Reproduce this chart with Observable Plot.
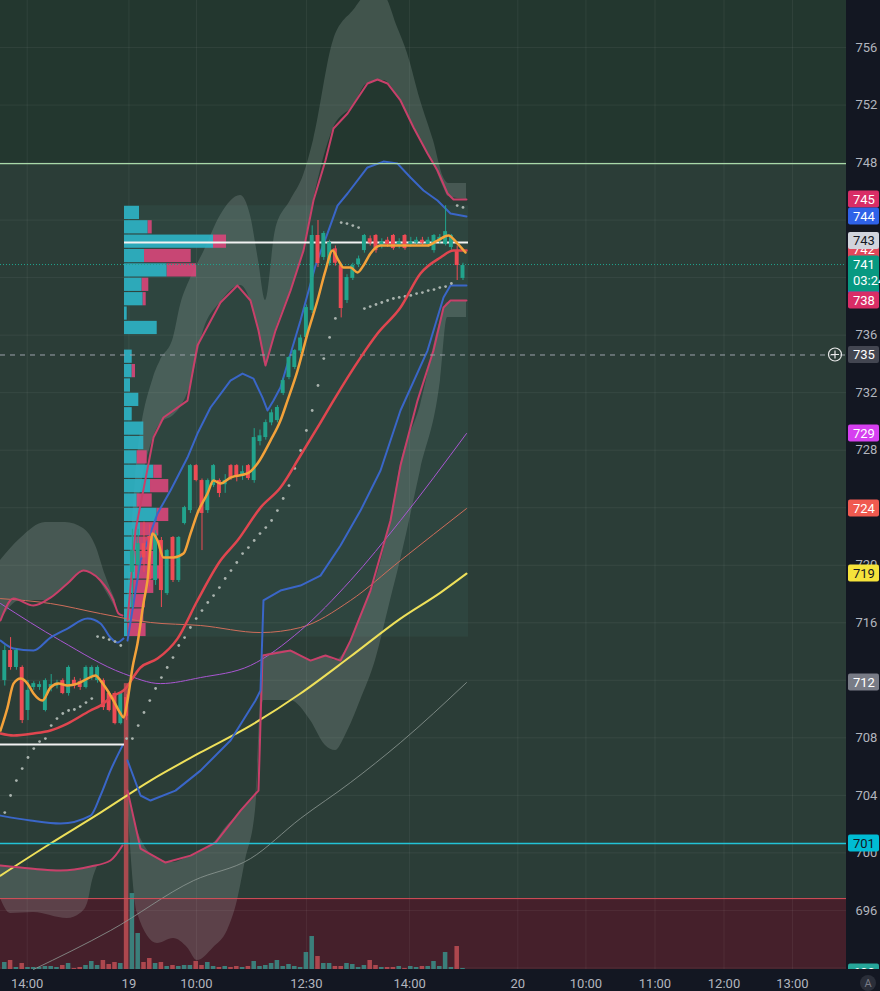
<!DOCTYPE html>
<html><head><meta charset="utf-8">
<script src="https://cdn.jsdelivr.net/npm/d3@7"></script>
<script src="https://cdn.jsdelivr.net/npm/@observablehq/plot@0.6"></script>
<style>
html,body{margin:0;padding:0;background:#131722;}
#chart svg{display:block;}
</style></head><body><div id="chart"></div>
<script>
// ---------- axes ----------
const xDomain = [-0.74, 145.12];           // bar index
const yDomain = [691.89, 759.27];          // price
const xTicks = [3.86, 21.4, 33.05, 52.0, 69.8, 88.45, 100.2, 112.1, 124.0, 135.8];
const xLabels = ["14:00", "19", "10:00", "12:30", "14:00", "20", "10:00", "11:00", "12:00", "13:00"];
const yTicks = [692, 696, 700, 704, 708, 712, 716, 720, 724, 728, 732, 736, 740, 744, 748, 752, 756];
const yTickLabels = [696, 700, 704, 708, 716, 720, 728, 732, 736, 748, 752, 756]; // the rest sit under price badges

// ---------- candles [bar, open, high, low, close] ----------
const candles = [
[0,711.98,714.4,711.6,714.07],[1,714.07,714.97,712.7,712.89],[2,712.89,714.2,712.7,714.07],[3,712.89,713.0,708.99,709.2],
[4,709.9,711.98,709.2,711.3],[5,711.5,711.9,711.3,711.77],[6,711.5,711.9,711.3,711.7],[7,709.9,712.1,709.8,711.98],
[8,711.5,712.4,711.2,711.7],[9,711.6,712.0,711.4,711.8],[10,711.98,712.1,711.0,711.08],[11,711.08,713.0,710.9,712.89],
[12,712.0,712.2,711.4,711.6],[13,711.9,712.1,711.3,711.5],[14,711.5,713.0,711.4,712.89],[15,712.19,713.0,712.0,712.89],
[16,711.98,713.0,711.8,712.89],[17,711.98,712.1,709.9,710.1],[18,711.08,711.2,709.8,709.9],[19,711.08,711.2,708.9,708.99],
[20,708.99,711.2,708.9,711.08],[21,710.8,711.0,709.2,709.5],[22,719.5,722.5,717.0,721.0],[23,720.0,722.5,719.0,721.5],
[24,721.5,723.0,719.5,720.5],[25,722.0,722.8,718.5,719.0],[26,718.94,722.4,718.6,722.2],[27,721.72,721.93,717.06,718.24],
[28,718.03,721.1,717.9,721.02],[29,721.93,722.0,718.8,718.94],[30,718.94,722.0,718.8,721.93],[31,722.9,724.1,722.8,724.01],
[32,723.8,727.0,723.6,726.93],[33,726.93,727.0,725.8,725.89],[34,725.89,726.0,721.02,723.6],[35,723.8,726.0,723.6,725.89],
[36,725.54,727.0,725.4,726.93],[37,725.89,726.0,724.7,724.99],[38,725.6,726.3,725.0,725.9],[39,726.93,727.0,725.9,726.03],
[40,726.93,727.0,725.8,726.1],[41,726.2,726.9,725.9,726.5],[42,726.93,727.0,725.9,726.03],[43,725.89,729.5,725.7,728.88],
[44,728.6,729.4,728.3,729.0],[45,728.88,730.1,728.7,729.92],[46,729.9,730.8,729.7,730.6],[47,730.06,731.1,729.9,730.97],
[48,731.94,733.0,731.8,732.84],[49,733.05,734.5,732.9,734.44],[50,733.75,735.0,733.6,734.93],[51,734.9,736.0,734.7,735.8],
[52,735.84,738.1,735.7,737.92],[53,737.71,743.6,737.5,742.93],[54,742.93,743.97,740.7,740.98],[55,741.4,743.2,741.2,743.07],
[56,740.98,742.6,740.8,742.44],[57,742.0,742.2,740.8,741.0],[58,740.84,741.0,737.2,737.85],[59,738.41,740.2,738.2,740.01],
[60,739.94,741.0,739.8,740.84],[61,740.9,741.5,740.7,741.3],[62,741.88,743.0,741.7,742.93],[63,742.7,742.9,742.2,742.4],
[64,742.93,743.0,741.7,741.88],[65,742.2,742.7,742.0,742.5],[66,742.6,742.8,742.1,742.3],[67,742.93,743.0,741.9,742.02],
[68,742.2,742.7,742.0,742.5],[69,742.93,743.0,741.9,742.02],[70,742.3,742.8,742.1,742.5],[71,742.4,742.8,742.2,742.6],
[72,742.6,742.8,742.2,742.4],[73,742.3,742.8,742.1,742.6],[74,741.88,743.0,741.7,742.93],[75,742.5,743.0,742.3,742.8],
[76,742.3,745.0,742.2,743.2],[77,742.09,743.0,741.9,742.93],[78,741.88,742.2,739.8,740.84],[79,739.94,741.0,739.8,740.84]
];
// volume per bar (x10k shares)
const volumes = [7,9,2,6,2,2,2,3,3,2, 4,6,1,2,4,8,4,9,5,7, 6,286,76,36,7,11,6,7,3,4, 3,4,4,8,4,7,3,2,3,2,
  3,2,3,8,3,4,6,9,3,5, 3,2,17,33,13,6,6,3,3,6, 5,2,4,9,4,2,2,2,3,1, 3,2,3,3,8,3,17,2,23,1];

// ---------- session volume profile [row low price, up vol, down vol] ----------
const profileRows = [
[744,15,0],[743,23.7,4],[742,89,13],[741,20,46.7],[740,42.7,29.3],[739,17.7,6.6],[738,18.7,3],[737,2.7,0],
[736,32.7,0],[735,0,0],[734,7.7,0],[733,7.7,3.3],[732,6,0],[731,14.3,0],[730,7.7,0],[729,19.3,0],[728,19.3,0],
[727,12.7,10],[726,29.3,8.4],[725,26,18.3],[724,12.7,15],[723,32.7,11.6],[722,16,18.3],[721,12.7,16.6],
[720,11,20],[719,11,25],[718,9.3,20],[717,7.7,13.3],[716,6,13.3],[715,3.3,18.3]
];
const profileSession = {start: 20.64, end: 79.95, low: 715, high: 745, poc: 742.44};
const prevPoc = {end: 20.64, price: 707.53};

// ---------- indicator lines [bar, price] ----------
const yellowMA = [[-0.74,698.42],[7.88,700.65],[16.5,702.8],[25.12,705.03],[33.74,706.98],[42.36,708.85],[50.98,711.08],[59.6,713.65],[68.22,716.29],[75.12,718.1],[79.6,719.42]];
const grayMA = [[4.95,691.89],[18.22,694.6],[32.53,698.07],[42.36,699.6],[50.98,702.39],[59.6,704.89],[68.22,707.67],[79.6,711.84]];
const purpleMA = [[-0.74,717.34],[9.6,714.76],[20.47,712.47],[26.84,711.77],[33.74,712.19],[42.36,713.03],[50.98,715.46],[59.6,718.94],[68.22,723.11],[79.6,729.16]];
const salmonMA = [[-0.74,717.68],[7.88,717.34],[16.5,716.64],[25.12,716.02],[33.74,715.81],[44.09,715.32],[50.98,715.67],[59.6,717.55],[68.22,720.33],[79.6,723.94]];
const redMA = [[-0.74,708.3],[1.5,708.16],[4.95,708.3],[7.88,708.51],[10.81,708.99],[14.78,709.9],[16.5,710.24],[18.74,710.94],[20.47,711.29],[23.4,712.89],[26.33,713.51],[29.78,714.9],[33.22,717.55],[37.19,720.33],[40.12,721.72],[44.09,724.01],[47.53,725.4],[50.98,727.63],[54.43,729.92],[56.67,731.45],[61.33,734.44],[64.26,736.11],[68.22,737.92],[71.67,740.29],[75.12,741.4],[77.36,741.88],[79.6,741.88]];
const orangeMA = [[-0.74,708.51],[0.47,710.1],[1.5,711.77],[2.71,712.12],[3.91,711.77],[4.95,711.08],[6.5,710.59],[7.88,711.5],[9.26,711.77],[10.81,711.64],[12.53,711.77],[14.26,712.12],[15.64,712.33],[16.5,711.98],[17.71,711.29],[18.74,710.59],[19.95,709.69],[20.47,709.41],[21.16,710.59],[22.02,712.89],[22.88,714.56],[23.91,717.34],[24.6,718.94],[25.47,722.2],[26.33,721.72],[27.36,720.54],[29.09,720.54],[30.81,720.81],[32.02,722.2],[33.4,723.8],[34.95,724.99],[35.98,725.89],[37.19,725.68],[38.91,726.1],[41.84,726.38],[43.57,727.07],[45.81,728.67],[47.53,730.06],[48.74,731.45],[50.47,733.54],[52.19,736.11],[53.91,738.41],[55.29,740.49],[56.5,741.88],[57.53,741.19],[58.4,740.7],[59.6,740.7],[60.81,740.36],[61.84,740.84],[63.05,741.68],[64.78,742.23],[67.02,742.23],[69.95,742.23],[72.88,742.23],[74.6,742.58],[76.5,742.93],[78.05,742.37],[79.43,741.75]];

// session bands (day 18 / day 19)
const upperPink18 = [[-0.74,716.16],[1.5,717.68],[4.95,717.2],[7.88,717.75],[10.81,718.73],[13.57,719.63],[14.78,719.49],[16.5,718.94],[18.74,717.55],[19.6,716.64],[20.29,716.5]];
const upperBlue18 = [[-0.74,714.76],[1.5,714.21],[4.95,714.07],[7.88,714.97],[10.81,715.6],[14.26,716.29],[16.5,715.95],[18.22,714.97],[19.43,714.63],[20.47,714.9]];
const lowerBlue18 = [[-0.74,702.59],[4.43,702.25],[9.6,702.04],[14.78,702.59],[16.5,703.99],[18.22,705.72],[20.29,707.46]];
const lowerPink18 = [[-0.74,699.12],[4.43,698.91],[9.6,698.77],[14.78,699.05],[18.22,699.47],[20.29,700.51]];
const upperPink19 = [[21.16,716.16],[22.53,722.41],[24.78,727.07],[25.64,728.88],[27.36,730.27],[31.5,731.45],[33.22,735.28],[37.19,738.27],[40.12,739.45],[42.36,738.41],[43.74,736.32],[44.95,733.89],[46.67,736.32],[49.26,739.1],[51.5,741.88],[53.22,745.36],[55.29,748.14],[56.67,750.37],[59.09,751.41],[62.53,753.5],[64.26,753.78],[65.98,753.5],[68.22,752.32],[70.47,750.44],[72.88,748.63],[74.6,747.45],[76.33,745.85],[77.36,745.43],[79.6,745.43]];
const upperBlue19 = [[21.16,714.76],[23.4,720.33],[26.33,723.6],[28.57,725.2],[31.5,727.49],[33.22,729.16],[35.47,730.97],[38.91,732.84],[40.98,733.33],[42.88,732.98],[44.43,731.66],[45.29,730.76],[46.33,731.45],[47.53,732.36],[50.98,737.02],[53.57,740.84],[55.64,743.07],[57.36,745.01],[59.09,745.85],[62.53,747.66],[65.29,748.07],[67.71,747.93],[69.95,746.96],[72.19,746.06],[74.6,745.36],[76.84,744.46],[79.6,744.25]];
const lowerBlue19 = [[21.16,706.42],[23.4,703.99],[25.12,703.64],[29.43,704.33],[33.74,705.72],[38.91,707.81],[43.22,710.59],[44.09,711.29],[44.6,717.55],[47.53,718.24],[50.98,718.59],[54.43,719.28],[57.88,721.37],[61.33,723.8],[64.78,726.59],[68.22,730.76],[72.88,734.93],[75.64,738.62],[76.84,739.45],[79.6,739.45]];
const lowerPink19 = [[21.16,704.33],[23.4,700.3],[27.71,699.33],[32.02,699.81],[36.33,700.72],[40.64,702.94],[43.74,704.33],[44.43,713.72],[49.26,714.07],[52.71,713.37],[55.29,713.72],[57.88,713.37],[59.6,714.76],[63.05,718.24],[66.5,723.11],[68.22,726.93],[71.16,731.45],[73.91,734.93],[75.64,737.92],[76.84,738.41],[79.6,738.41]];

// outer clouds [bar, edge a, edge b]
const cloudUpper18 = [[-0.74,720.33,716.16],[2.71,721.86,717.55],[7.02,722.97,717.55],[10.47,722.97,718.59],[13.57,722.55,719.63],[15.64,721.37,719.28],[17.36,719.28,718.24],[19.09,717.55,716.99]];
const cloudLower18 = [[-0.74,699.12,696.82],[0.98,698.98,695.78],[4.95,698.91,695.85],[10.81,698.77,695.43],[13.05,698.91,695.78],[14.26,698.98,696.48],[15.12,699.05,698.07],[15.98,699.12,699.05]];
const cloudUpper19 = [[21.16,717.55,716.16],[22.53,725.89,722.41],[25.64,733.05,728.88],[26.84,734.24,729.85],[29.09,735.84,730.41],[30.29,738.06,730.97],[32.02,739.94,732.5],[34.26,741.75,736.32],[37.19,744.32,738.27],[40.64,745.71,739.45],[42.36,744.32,738.41],[43.74,741.19,736.32],[44.95,738.41,733.89],[46.67,743.28,736.32],[49.26,745.36,739.1],[51.5,747.1,741.88],[53.22,749.53,745.36],[56.67,756.49,750.37],[60.12,758.57,751.97],[62.53,759.62,753.5],[65.29,759.62,753.71],[67.71,757.39,752.66],[69.43,755.58,751.41],[71.67,752.32,749.53],[73.91,749.53,747.93],[75.64,746.96,746.27],[76.5,746.54,745.64],[79.6,746.54,745.43]];
const cloudLower19 = [[21.16,704.33,703.64],[22.88,701.55,695.78],[26.33,699.6,693.69],[29.09,699.33,694.04],[31.5,699.67,693.41],[33.22,699.95,692.51],[35.98,700.65,693.41],[38.4,701.9,694.6],[40.12,702.59,696.68],[41.5,703.29,699.47],[43.22,703.99,702.94],[44.6,713.72,710.59],[49.26,714.07,710.59],[52.71,713.37,709.2],[55.29,713.72,707.46],[57.02,713.37,707.11],[58.74,714.07,708.16],[61.33,716.5,710.59],[63.91,718.94,713.37],[66.5,723.11,717.55],[68.22,726.93,720.33],[71.67,731.11,726.59],[75.12,737.02,732.84],[76.33,738.27,737.23],[79.6,738.41,737.23]];

// parabolic SAR dots, one per bar
const sar = [702.8,703.99,705.03,705.86,706.63,707.25,707.74,707.95,708.85,709.34,709.69,709.9,709.97,710.17,710.45,710.73,
715.04,714.97,714.83,714.69,714.42,707.95,707.95,708.85,709.76,710.59,711.43,712.19,712.89,713.58,714.42,714.97,715.67,716.29,
716.85,717.41,717.89,718.45,719.08,719.63,720.19,720.81,721.23,721.72,722.2,722.62,723.11,723.8,724.64,725.54,726.73,727.98,
729.37,730.76,732.5,734.37,735.84,737.16,743.83,743.76,743.62,743.48,737.85,737.99,738.13,738.27,738.41,738.55,738.62,738.69,
738.76,738.89,738.96,739.1,739.17,739.31,739.38,739.59,745.01,744.88];

// horizontal levels
const levelGreen = 747.93, levelCyan = 700.65, zoneRed = 696.82, crosshair = 734.62, lastPrice = 740.91;

// right-axis price badges
const badges = [
 {v:741.9, t:"742", bg:"#e2475a", fg:"#fff"},
 {v:739.45, t:"740", bg:"#2f62e8", fg:"#fff"},
 {v:742.55, t:"743", bg:"#d1d4dc", fg:"#131722"},
 {v:745.43, t:"745", bg:"#d92d66", fg:"#fff"},
 {v:744.25, t:"744", bg:"#2f62e8", fg:"#fff"},
 {v:740.91, t:"741", sub:"03:24", bg:"#089981", fg:"#fff"},
 {v:738.41, t:"738", bg:"#d92d66", fg:"#fff"},
 {v:734.62, t:"735", bg:"#434651", fg:"#fff"},
 {v:729.16, t:"729", bg:"#d63ff0", fg:"#fff"},
 {v:723.94, t:"724", bg:"#f05a50", fg:"#fff"},
 {v:719.42, t:"719", bg:"#f5e33b", fg:"#131722"},
 {v:711.84, t:"712", bg:"#787b86", fg:"#fff"},
 {v:700.65, t:"701", bg:"#00bcd4", fg:"#131722"},
 {v:691.68, t:"600", bg:"#26a69a", fg:"#fff"}
];

// ---------- derived ----------
const up = "#22a38c", down = "#ee4b55";
const bars = candles.map(([i,o,h,l,c]) => ({i,o,h,l,c,up: c >= o,
  lo: Math.min(o,c), hi: Math.max(Math.max(o,c), Math.min(o,c)+0.08)}));
const volScale = 0.0695;
const volData = volumes.map((v,i) => ({i, v, up: bars[i].up}));
const profScale = 1/5.8;
const prof = profileRows.map(([p,u,d]) => ({p, u, d}));
const P = d => d[0], V = d => d[1];

const curve = "monotone-x";
const line = (data, stroke, w, extra={}) => Plot.line(data, {x: P, y: V, stroke, strokeWidth: w, curve, ...extra});
const cloud = (data) => Plot.areaY(data, {x: P, y1: d => d[1], y2: d => d[2], fill: "#b9c6c1", fillOpacity: 0.2, curve});

const chart = Plot.plot({
  width: 880, height: 991,
  marginLeft: 0, marginRight: 34, marginTop: 0, marginBottom: 22,
  style: {background: "#131722", fontFamily: "Roboto, 'Noto Sans', sans-serif", fontSize: "13px", color: "#b2b5be"},
  x: {domain: xDomain, axis: null},
  y: {domain: yDomain, axis: null},
  marks: [
    // background zones
    Plot.rect([0], {y1: levelGreen, y2: yDomain[1], fill: "#23372f"}),
    Plot.rect([0], {y1: zoneRed, y2: levelGreen, fill: "#2b3d37"}),
    Plot.rect([0], {y1: yDomain[0], y2: zoneRed, fill: "#45202b"}),
    // grid
    Plot.ruleX(xTicks, {stroke: "#ffffff", strokeOpacity: 0.06}),
    Plot.ruleY(yTicks, {stroke: "#ffffff", strokeOpacity: 0.06}),
    // profile box
    Plot.rect([profileSession], {x1: "start", x2: "end", y1: "low", y2: "high", fill: "#5fb3ad", fillOpacity: 0.07}),
    // clouds
    cloud(cloudUpper18), cloud(cloudLower18), cloud(cloudUpper19), cloud(cloudLower19),
    // volume
    Plot.rect(volData, {x1: d => d.i - 0.39, x2: d => d.i + 0.39, y1: yDomain[0], y2: d => yDomain[0] + d.v * volScale,
      fill: d => d.up ? "#3a8a84" : "#b84b52", fillOpacity: 0.9}),
    // volume profile
    Plot.rect(prof, {x1: profileSession.start, x2: d => profileSession.start + d.u * profScale,
      y1: d => d.p + 0.04, y2: d => d.p + 0.96, fill: "#2eb4c6", fillOpacity: 0.9}),
    Plot.rect(prof, {x1: d => profileSession.start + d.u * profScale, x2: d => profileSession.start + (d.u + d.d) * profScale,
      y1: d => d.p + 0.04, y2: d => d.p + 0.96, fill: "#d9467a", fillOpacity: 0.9}),
    // slow MAs
    line(grayMA, "#8e9a95", 1, {strokeOpacity: 0.8}),
    line(salmonMA, "#cf6d5a", 1),
    line(purpleMA, "#a956d2", 1),
    line(yellowMA, "#eee05a", 2),
    // bands
    line(upperPink18, "#c8406a", 2), line(lowerPink18, "#c8406a", 2),
    line(upperBlue18, "#3a66c8", 2), line(lowerBlue18, "#3a66c8", 2),
    line(upperPink19, "#c8406a", 2, {curve: "linear"}), line(lowerPink19, "#c8406a", 2, {curve: "linear"}),
    line(upperBlue19, "#3a66c8", 2, {curve: "linear"}), line(lowerBlue19, "#3a66c8", 2, {curve: "linear"}),
    // levels
    Plot.ruleY([levelGreen], {stroke: "#a8d8a8", strokeWidth: 1.2}),
    Plot.ruleY([zoneRed], {stroke: "#d9505a", strokeWidth: 1}),
    Plot.ruleY([levelCyan], {stroke: "#22c3d6", strokeWidth: 1.6}),
    Plot.ruleY([crosshair], {stroke: "#9da2ab", strokeDasharray: "5,5", strokeWidth: 1}),
    Plot.ruleY([lastPrice], {stroke: "#1fa58f", strokeDasharray: "1,2", strokeWidth: 1}),
    Plot.ruleY([profileSession], {y: "poc", x1: "start", x2: "end", stroke: "#f2f2f2", strokeWidth: 2}),
    Plot.ruleY([prevPoc], {y: "price", x1: xDomain[0], x2: "end", stroke: "#f2f2f2", strokeWidth: 2}),
    // SAR
    Plot.dot(sar, {x: (d,i) => i, y: d => d, r: 1.4, fill: "#a9b3ae", stroke: null}),
    // candles
    Plot.ruleX(bars, {x: "i", y1: "l", y2: "h", stroke: d => d.up ? up : down, strokeWidth: 1}),
    Plot.rect(bars, {x1: d => d.i - 0.34, x2: d => d.i + 0.34, y1: "lo", y2: "hi", fill: d => d.up ? up : down}),
    // fast lines on top
    line(redMA, "#e0464f", 2.5),
    line(orangeMA, "#f3a23a", 2.5),
    // axes
    Plot.axisY(yTickLabels, {anchor: "right", tickSize: 0, tickPadding: 9, fill: "#b2b5be", fontSize: 13}),
    Plot.axisX(xTicks, {tickSize: 0, tickPadding: 9, fill: "#b2b5be", fontSize: 13,
      tickFormat: d => xLabels[xTicks.indexOf(d)]})
  ]
});
document.getElementById("chart").append(chart);

// badges on the price scale (clipped to the price pane)
const ys = chart.scale("y");
const svg = d3.select(chart);
svg.append("defs").append("clipPath").attr("id", "pane-clip")
  .append("rect").attr("x", 846).attr("y", 0).attr("width", 34).attr("height", 969);
const g = svg.append("g").attr("clip-path", "url(#pane-clip)")
  .attr("font-family", "Roboto, 'Noto Sans', sans-serif").attr("font-size", 13).attr("text-anchor", "start");
for (const b of badges) {
  const cy = ys.apply(b.v);
  const h = b.sub ? 36 : 17;
  g.append("rect").attr("x", 848).attr("y", cy - 8.5).attr("width", 31).attr("height", h).attr("rx", 2).attr("fill", b.bg);
  g.append("text").attr("x", 853).attr("y", cy).attr("dy", "0.36em").attr("fill", b.fg).text(b.t);
  if (b.sub) g.append("text").attr("x", 853).attr("y", cy + 16).attr("dy", "0.36em").attr("fill", b.fg).text(b.sub);
}
// crosshair marker and auto-scale button
const g2 = svg.append("g");
const cyc = ys.apply(crosshair);
g2.append("circle").attr("cx", 835).attr("cy", cyc).attr("r", 6.5).attr("fill", "none").attr("stroke", "#e8e8e8").attr("stroke-width", 1.2);
g2.append("path").attr("d", `M831,${cyc}H839M835,${cyc-4}V${cyc+4}`).attr("stroke", "#e8e8e8").attr("stroke-width", 1.2);
g2.append("circle").attr("cx", 868).attr("cy", 983).attr("r", 8).attr("fill", "#2a2e39");
g2.append("text").attr("x", 868).attr("y", 983).attr("dy", "0.36em").attr("text-anchor", "middle").attr("font-size", 11).attr("fill", "#787b86").text("A");
</script></body></html>
